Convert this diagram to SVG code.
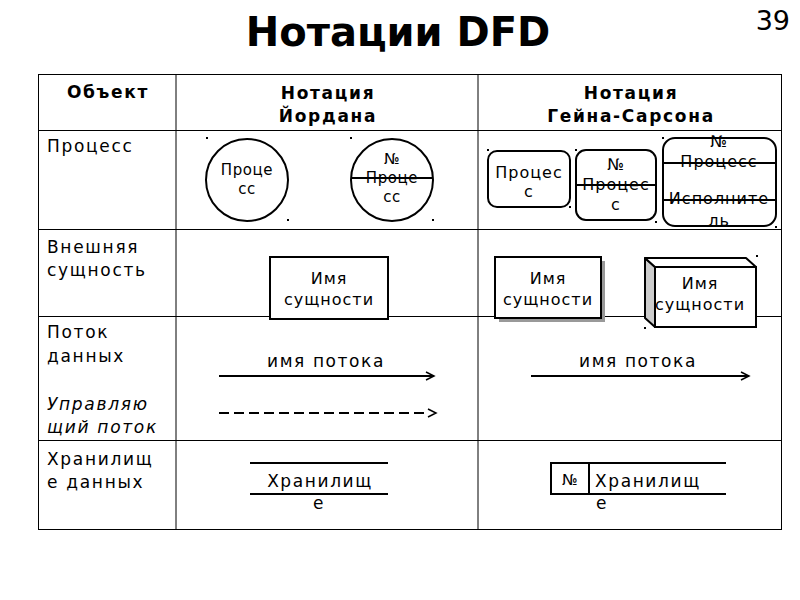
<svg xmlns="http://www.w3.org/2000/svg" width="800" height="600" viewBox="0 0 800 600">
<style>
text{font-family:"DejaVu Sans","Liberation Sans",sans-serif;fill:#000}
.title{font-size:40px;font-weight:bold}
.hdr{font-size:17px;font-weight:bold;text-anchor:middle;letter-spacing:1.7px}
.lbl{font-size:17px;letter-spacing:1.7px}
.it{font-style:italic}
.c{text-anchor:middle}
.s15{font-size:15px;letter-spacing:0.6px}
.s16{font-size:16px;letter-spacing:1px}
.s17{font-size:17px;letter-spacing:1.6px}
.grid{stroke:#000;stroke-width:1;fill:none}
.sh{stroke:#000;stroke-width:2;fill:#fff}
.ln{stroke:#000;stroke-width:2;fill:none}
.dot{fill:#000}
</style>
<defs>
<marker id="ah" markerWidth="12" markerHeight="12" refX="10" refY="6" orient="auto" markerUnits="userSpaceOnUse">
<path d="M2,2 L10,6 L2,10" fill="none" stroke="#000" stroke-width="1.5"/>
</marker>
</defs>
<rect width="800" height="600" fill="#fff"/>
<text class="title" x="398" y="46" text-anchor="middle">Нотации DFD</text>
<text x="790" y="30" font-size="27" text-anchor="end">39</text>

<g id="table" class="grid">
<rect x="38.5" y="74.5" width="743" height="455"/>
<line x1="176" y1="74" x2="176" y2="529"/>
<line x1="478" y1="74" x2="478" y2="529"/>
<line x1="38" y1="130.5" x2="781" y2="130.5"/>
<line x1="38" y1="229.5" x2="781" y2="229.5"/>
<line x1="38" y1="316.5" x2="781" y2="316.5"/>
<line x1="38" y1="440.5" x2="781" y2="440.5"/>
</g>

<g id="headers">
<text class="hdr" x="108" y="98">Объект</text>
<text class="hdr" x="328" y="99">Нотация</text>
<text class="hdr" x="328" y="122">Йордана</text>
<text class="hdr" x="631" y="99">Нотация</text>
<text class="hdr" x="631" y="122">Гейна-Сарсона</text>
</g>

<g id="row-labels" class="lbl">
<text x="47" y="152">Процесс</text>
<text x="47" y="253">Внешняя</text>
<text x="47" y="276">сущность</text>
<text x="47" y="338">Поток</text>
<text x="47" y="362">данных</text>
<text x="47" y="410" class="it">Управляю</text>
<text x="47" y="433" class="it">щий поток</text>
<text x="47" y="465">Хранилищ</text>
<text x="47" y="488">е данных</text>
</g>

<g id="y-process">
<circle class="sh" cx="247" cy="180" r="41"/>
<text class="c s15" x="247" y="175" fill="#222">Проце</text>
<text class="c s15" x="247" y="194" fill="#222">сс</text>
<rect class="dot" x="206" y="137" width="2" height="2"/>
<rect class="dot" x="287" y="219" width="2" height="2"/>
</g>
<g id="y-process-num">
<circle class="sh" cx="392" cy="180" r="41"/>
<text class="c s15" x="392" y="164" fill="#222">№</text>
<text class="c s15" x="392" y="183" fill="#222">Проце</text>
<text class="c s15" x="392" y="202" fill="#222">сс</text>
<line class="ln" x1="351" y1="178" x2="433" y2="178"/>
<rect class="dot" x="350" y="137" width="2" height="2"/>
<rect class="dot" x="432" y="219" width="2" height="2"/>
</g>

<g id="gs-process">
<rect class="sh" x="488" y="151" width="82" height="56" rx="9"/>
<text class="c s16" x="529" y="178">Процес</text>
<text class="c s16" x="529" y="197">с</text>
<rect class="dot" x="487" y="149" width="2" height="2"/>
<rect class="dot" x="569" y="206" width="2" height="2"/>
</g>
<g id="gs-process-num">
<rect class="sh" x="576" y="150" width="80" height="70" rx="10"/>
<line class="ln" x1="576" y1="185" x2="656" y2="185"/>
<text class="c s16" x="616" y="170">№</text>
<text class="c s16" x="616" y="190">Процес</text>
<text class="c s16" x="616" y="210">с</text>
<rect class="dot" x="575" y="149" width="2" height="2"/>
<rect class="dot" x="655" y="221" width="2" height="2"/>
</g>
<g id="gs-process-exec">
<rect class="sh" x="663" y="138" width="113" height="88" rx="12"/>
<line class="ln" x1="663" y1="163" x2="776" y2="163"/>
<line class="ln" x1="663" y1="200" x2="776" y2="200"/>
<text class="c s16" x="719" y="147">№</text>
<text class="c s16" x="719" y="167">Процесс</text>
<text class="c s16" x="719" y="204">Исполните</text>
<text class="c s16" x="719" y="226">ль</text>
<rect class="dot" x="662" y="137" width="2" height="2"/>
<rect class="dot" x="775" y="226" width="2" height="2"/>
</g>

<g id="y-entity">
<rect class="sh" x="270" y="257" width="118" height="62"/>
<text class="c s16" x="329" y="284">Имя</text>
<text class="c s16" x="329" y="305">сущности</text>
</g>
<g id="gs-entity">
<rect x="499" y="261" width="106" height="61" fill="#999"/>
<rect class="sh" x="495" y="257" width="106" height="61"/>
<text class="c s16" x="548" y="284">Имя</text>
<text class="c s16" x="548" y="305">сущности</text>
</g>
<g id="gs-entity-3d">
<path d="M645,258 L655,267 L655,327 L645,318 Z" fill="#ccc" stroke="#000" stroke-width="2" stroke-linejoin="round"/>
<path d="M645,258 L746,258 L756,267 L655,267 Z" fill="#fff" stroke="#000" stroke-width="2" stroke-linejoin="round"/>
<rect class="sh" x="655" y="267" width="101" height="60"/>
<text class="c s16" x="700" y="289">Имя</text>
<text class="c s16" x="700" y="310">сущности</text>
<rect class="dot" x="756" y="255" width="2" height="2"/>
<rect class="dot" x="644" y="327" width="2" height="2"/>
</g>

<g id="connectors">
<text class="c s17" x="326" y="367">имя потока</text>
<line class="ln" x1="219" y1="376" x2="434" y2="376" marker-end="url(#ah)"/>
<line class="ln" x1="219" y1="413" x2="428" y2="413" stroke-dasharray="10,5"/>
<path d="M428,409 L436,413 L428,417" fill="none" stroke="#000" stroke-width="1.5"/>
<text class="c s17" x="638" y="367">имя потока</text>
<line class="ln" x1="531" y1="376" x2="749" y2="376" marker-end="url(#ah)"/>
</g>

<g id="y-store">
<line class="ln" x1="250" y1="463" x2="388" y2="463"/>
<line class="ln" x1="250" y1="494" x2="388" y2="494"/>
<text class="c s17" x="320" y="487">Хранилищ</text>
<text class="c s17" x="319" y="509">е</text>
</g>
<g id="gs-store">
<path d="M726,463 L551,463 L551,494 L726,494" class="ln"/>
<line class="ln" x1="589" y1="463" x2="589" y2="494"/>
<text class="c s15" x="570" y="485">№</text>
<text class="s17" x="595" y="487">Хранилищ</text>
<text class="s17" x="596" y="509">е</text>
</g>
</svg>
